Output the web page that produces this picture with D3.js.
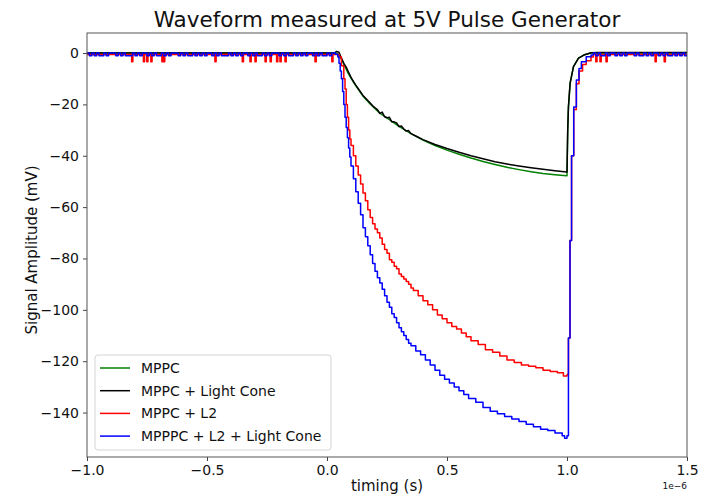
<!DOCTYPE html>
<html>
<head>
    <meta charset="utf-8">
    <script src="https://d3js.org/d3.v7.min.js" charset="utf-8"></script>
    <style>
        body { margin: 0; background: #fff; }
        text { font-family: "DejaVu Sans", sans-serif; fill: #111; }
        .axis text { font-size: 14px; }
        .legend text { font-size: 14px; }
    </style>
</head>
<body>
    <svg width="713" height="498"></svg>

    <script>
        // ---- data (time in microseconds, signal in mV) ----
        const seriesNames = ["MPPC", "MPPC + Light Cone", "MPPC + L2", "MPPPC + L2 + Light Cone"];
        const seriesColors = ["green", "black", "red", "blue"];

        const xTicks = [-1.0, -0.5, 0.0, 0.5, 1.0, 1.5];
        const yTicks = [0, -20, -40, -60, -80, -100, -120, -140];

        // MPPC (green)
        const mppc = [[-1.0, 0], [0.03, 0], [0.045, -0.4], [0.06, -2.3], [0.07, -4.2], [0.085, -7.3],
            [0.1, -9.8], [0.12, -12.8], [0.15, -16.8], [0.18, -19.8], [0.22, -23.4], [0.26, -25.9],
            [0.3, -28.6], [0.35, -31.4], [0.4, -33.9], [0.45, -36], [0.5, -37.8], [0.55, -39.4],
            [0.6, -40.9], [0.65, -42.2], [0.7, -43.4], [0.75, -44.5], [0.8, -45.4], [0.85, -46.2],
            [0.9, -46.9], [0.95, -47.4], [0.998, -47.8], [1.0, -47.8], [1.003, -30], [1.006, -21],
            [1.013, -11.7], [1.027, -5.3], [1.048, -2], [1.07, -0.8], [1.1, 0], [1.5, 0]];

        // MPPC + Light Cone (black)
        const mppcCone = [[-1.0, 0], [0.03, 0], [0.04, 0.6], [0.05, 0.3], [0.06, -2], [0.07, -4],
            [0.08, -5.5], [0.09, -7.5], [0.1, -9.5], [0.11, -11], [0.12, -12.5], [0.135, -14.5],
            [0.15, -16.5], [0.165, -18], [0.18, -19.5], [0.195, -21], [0.21, -22], [0.22, -23.5],
            [0.23, -23], [0.24, -24.8], [0.25, -25.2], [0.26, -25], [0.27, -26.8], [0.28, -26.8],
            [0.29, -27.2], [0.3, -28.6], [0.31, -28.4], [0.32, -29.6], [0.33, -30.4], [0.34, -30.2],
            [0.35, -31.4], [0.37, -32.3], [0.4, -33.7], [0.45, -35.6], [0.5, -37.2], [0.55, -38.6],
            [0.6, -40], [0.65, -41.2], [0.7, -42.3], [0.75, -43.2], [0.8, -44], [0.85, -44.7],
            [0.9, -45.3], [0.95, -45.8], [0.998, -46.3], [1.0, -46.3], [1.003, -30], [1.006, -21],
            [1.013, -11.7], [1.027, -5.3], [1.048, -2], [1.07, -0.8], [1.1, 0.1], [1.13, 0.2], [1.5, 0.2]];

        // MPPC + L2 (red): pulse part
        const mppcL2 = [[0.04, -0.6], [0.05, -1.5], [0.06, -5], [0.07, -10], [0.075, -14], [0.08, -20],
            [0.085, -25], [0.09, -30], [0.095, -33.5], [0.1, -36], [0.11, -40], [0.12, -44],
            [0.13, -47.5], [0.14, -51], [0.15, -54.5], [0.16, -57.5], [0.17, -61], [0.18, -64],
            [0.19, -66.5], [0.2, -68.5], [0.21, -70], [0.22, -72], [0.23, -74.5], [0.24, -76.5],
            [0.25, -78], [0.26, -80.5], [0.27, -81.5], [0.28, -83], [0.29, -84], [0.3, -86],
            [0.31, -87], [0.32, -88], [0.33, -89], [0.34, -90], [0.35, -91.5], [0.36, -92.5],
            [0.38, -94.5], [0.4, -96.5], [0.42, -98], [0.44, -100], [0.46, -102], [0.48, -103.5],
            [0.5, -105], [0.52, -106.5], [0.54, -107.5], [0.56, -109], [0.58, -110.5], [0.6, -112],
            [0.63, -113.5], [0.66, -115.5], [0.69, -116.5], [0.72, -118], [0.75, -119.5], [0.78, -120.5],
            [0.81, -121.5], [0.84, -122], [0.87, -122.5], [0.9, -123.5], [0.93, -124], [0.96, -124.5],
            [0.985, -125.8], [1.0, -125.3], [1.003, -125], [1.006, -111], [1.0125, -73], [1.019, -40],
            [1.028, -22], [1.039, -12], [1.05, -7], [1.065, -4.5], [1.08, -3], [1.1, -1.5], [1.11, -0.6]];
        const redSpikes = [-0.814, -0.765, -0.751, -0.734, -0.688, -0.681, -0.467, -0.353, -0.321,
            -0.3, -0.258, -0.237, -0.21, -0.196, -0.175, -0.05, 0.02, 1.12, 1.1375, 1.1625, 1.367, 1.405];

        // MPPPC + L2 + Light Cone (blue): pulse part
        const mppcL2Cone = [[0.035, -0.5], [0.045, -1.5], [0.05, -4], [0.055, -7], [0.06, -10],
            [0.065, -15], [0.07, -20], [0.075, -25], [0.08, -29], [0.085, -33], [0.09, -37],
            [0.095, -40.5], [0.1, -44], [0.11, -49], [0.12, -54], [0.13, -58.5], [0.14, -63],
            [0.15, -68], [0.16, -71.5], [0.17, -75], [0.18, -78.5], [0.19, -82], [0.2, -85],
            [0.21, -87.5], [0.22, -89.5], [0.23, -92], [0.24, -94.5], [0.25, -97], [0.26, -99],
            [0.27, -101.5], [0.28, -103], [0.29, -105], [0.3, -107], [0.31, -108.5], [0.32, -110],
            [0.33, -111.5], [0.34, -113], [0.35, -114], [0.37, -116], [0.39, -117.5], [0.41, -119.5],
            [0.43, -121.5], [0.45, -123.5], [0.47, -125.5], [0.49, -127], [0.51, -128.5], [0.53, -130],
            [0.55, -131.5], [0.57, -133], [0.59, -134.5], [0.62, -136], [0.65, -138], [0.68, -139.5],
            [0.71, -140.5], [0.74, -141.5], [0.77, -142.5], [0.8, -143.5], [0.83, -144.5], [0.86, -145.5],
            [0.89, -146.5], [0.92, -147], [0.95, -148], [0.98, -149], [0.99, -150], [1.0, -149],
            [1.006, -111], [1.0125, -73], [1.019, -40], [1.028, -21], [1.039, -10.5], [1.05, -6],
            [1.06, -3.4], [1.08, -1.4], [1.1, -0.8]];

        // blue baseline samples every 0.01 us: before the pulse (from -1.00) and after it (from 1.11)
        const blueBaseLeft = [0, -1.1, 0, -1.1, 0, -1.1, -1.1, 0, -1.1, 0,
            0, 0, -1.1, 0, -1.1, 0, -1.1, -1.1, -1.1, 0,
            -1.1, 0, -1.1, 0, 0, -1.1, 0, -1.1, 0, -1.1,
            -1.1, 0, -1.1, 0, -1.1, 0, 0, 0, -1.1, 0,
            -1.1, 0, -1.1, -1.1, 0, -1.1, 0, -1.1, 0, -1.1,
            0, 0, -1.1, 0, -1.1, 0, -1.1, -1.1, -1.1, 0,
            -1.1, 0, -1.1, 0, -1.1, 0, 0, -1.1, 0, -1.1,
            0, -1.1, -1.1, 0, -1.1, 0, -1.1, 0, 0, 0,
            -1.1, 0, -1.1, 0, -1.1, -1.1, 0, -1.1, 0, -1.1,
            0, -1.1, 0, 0, -1.1, 0, -1.1, 0, -1.1, -1.1,
            0, -1.1, 0];
        const blueBaseRight = [0, -1.1, 0, -1.1, -1.1, 0, -1.1, 0, 0, -1.1,
            0, -1.1, 0, -1.1, 0, 0, 0, -1.1, 0, -1.1,
            -1.1, 0, -1.1, 0, -1.1, 0, 0, -1.1, 0, -1.1,
            0, -1.1, -1.1, 0, -1.1, 0, -1.1, 0, -1.1, 0];

        // ---- build full red / blue traces ----
        const redLevel = -0.6, spikeLevel = -3.4;
        const redLeft = [[-1.0, redLevel]], redRight = [[1.11, redLevel]];
        redSpikes.forEach(t => {
            const arr = t < 0.5 ? redLeft : redRight;
            arr.push([t, spikeLevel], [t + 0.005, redLevel]);
        });
        redRight.push([1.5, redLevel]);
        const redTrace = redLeft.concat(mppcL2, redRight);

        const blueTrace = blueBaseLeft.map((v, i) => [-1.0 + i * 0.01, v])
            .concat(mppcL2Cone, blueBaseRight.map((v, i) => [1.11 + i * 0.01, v]), [[1.5, 0]]);

        // ---- chart ----
        const svg = d3.select("svg");
        const plot = { left: 87, right: 687, top: 33, bottom: 457 };
        const US = 1e-6;
        const MINUS = "\u2212";

        const x = d3.scaleLinear().domain([-1.0 * US, 1.5 * US]).range([plot.left, plot.right]);
        const y = d3.scaleLinear().domain([-157.3, 7.8]).range([plot.bottom, plot.top]);
        const withMinus = v => (v < 0 ? MINUS : "") + Math.abs(v);

        svg.append("defs").append("clipPath").attr("id", "clip")
            .append("rect")
            .attr("x", plot.left).attr("y", plot.top)
            .attr("width", plot.right - plot.left).attr("height", plot.bottom - plot.top);

        const smooth = d3.line().x(d => x(d[0] * US)).y(d => y(d[1]));
        const stepped = d3.line().x(d => x(d[0] * US)).y(d => y(d[1])).curve(d3.curveStepAfter);

        const traces = [
            { data: mppc, line: smooth },
            { data: mppcCone, line: smooth },
            { data: redTrace, line: stepped },
            { data: blueTrace, line: stepped }
        ];

        const lines = svg.append("g").attr("clip-path", "url(#clip)");
        traces.forEach((tr, i) => {
            lines.append("path")
                .attr("d", tr.line(tr.data))
                .attr("fill", "none")
                .attr("stroke", seriesColors[i])
                .attr("stroke-width", 1.5)
                .attr("stroke-linejoin", "round");
        });

        // axes
        const xAxis = d3.axisBottom(x).tickValues(xTicks.map(t => t * US)).tickSize(4).tickPadding(4)
            .tickFormat(d => {
                const v = Math.round(d / US * 10) / 10;
                return (v < 0 ? MINUS : "") + Math.abs(v).toFixed(1);
            });
        const yAxis = d3.axisLeft(y).tickValues(yTicks).tickSize(4).tickPadding(4)
            .tickFormat(withMinus);

        const gx = svg.append("g").attr("class", "axis")
            .attr("transform", `translate(0, ${plot.bottom})`).call(xAxis);
        const gy = svg.append("g").attr("class", "axis")
            .attr("transform", `translate(${plot.left}, 0)`).call(yAxis);
        [gx, gy].forEach(g => {
            g.select(".domain").remove();
            g.selectAll("line").attr("stroke", "#444");
            g.selectAll("text").attr("fill", "#111");
        });

        svg.append("rect")
            .attr("x", plot.left).attr("y", plot.top)
            .attr("width", plot.right - plot.left).attr("height", plot.bottom - plot.top)
            .attr("fill", "none").attr("stroke", "#555").attr("stroke-width", 1);

        // titles and labels
        svg.append("text").attr("x", (plot.left + plot.right) / 2).attr("y", 27)
            .attr("text-anchor", "middle").attr("font-size", "21.5px")
            .text("Waveform measured at 5V Pulse Generator");

        svg.append("text").attr("x", (plot.left + plot.right) / 2).attr("y", 491)
            .attr("text-anchor", "middle").attr("font-size", "15px")
            .text("timing (s)");

        svg.append("text").attr("transform", "translate(37, 250) rotate(-90)")
            .attr("text-anchor", "middle").attr("font-size", "15px")
            .text("Signal Amplitude (mV)");

        svg.append("text").attr("x", plot.right).attr("y", 489)
            .attr("text-anchor", "end").attr("font-size", "9px")
            .text("1e" + MINUS + "6");

        // legend
        const legend = svg.append("g").attr("class", "legend")
            .attr("transform", "translate(95, 355)");
        legend.append("rect")
            .attr("width", 236).attr("height", 95).attr("rx", 3)
            .attr("fill", "white").attr("fill-opacity", 0.8)
            .attr("stroke", "#d4d4d4");
        seriesNames.forEach((name, i) => {
            const row = legend.append("g").attr("transform", `translate(0, ${13 + i * 22.7})`);
            row.append("line").attr("x1", 5).attr("x2", 35)
                .attr("stroke", seriesColors[i]).attr("stroke-width", 1.5);
            row.append("text").attr("x", 46).attr("dy", "0.35em").text(name);
        });
    </script>
</body>
</html>
